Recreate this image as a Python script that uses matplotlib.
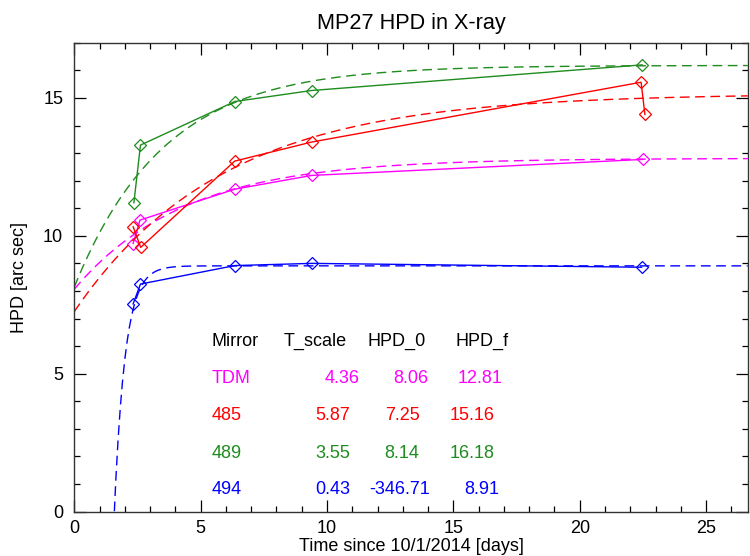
"""MP27 HPD in X-ray: gemessene HPD je Spiegel plus exponentieller Fit."""
import numpy as np
import matplotlib
matplotlib.use("Agg")
import matplotlib.pyplot as plt
from matplotlib.ticker import MultipleLocator

plt.rcParams.update({
    "font.family": ["Liberation Sans", "DejaVu Sans"],
    "font.size": 13,
    "xtick.direction": "in",
    "ytick.direction": "in",
    "xtick.top": True,
    "ytick.right": True,
})

# Messpunkte (Tage seit 10/1/2014, HPD in arcsec)
mirrors = ["TDM", "485", "489", "494"]
colors = ["#ff00ff", "#ff0000", "#1e8c1e", "#0000ff"]

tdm_t = [2.33, 2.60, 6.35, 9.39, 22.49]
tdm_hpd = [9.72, 10.57, 11.69, 12.19, 12.77]

m485_t = [2.33, 2.63, 6.35, 9.39, 22.43, 22.58]
m485_hpd = [10.33, 9.58, 12.71, 13.40, 15.57, 14.40]

m489_t = [2.36, 2.62, 6.35, 9.39, 22.47]
m489_hpd = [11.20, 13.29, 14.87, 15.27, 16.20]

m494_t = [2.33, 2.62, 6.35, 9.39, 22.45]
m494_hpd = [7.53, 8.25, 8.92, 9.00, 8.86]

# Fit-Parameter aus der Tabelle im Plot
t_scale = [4.36, 5.87, 3.55, 0.43]
hpd_0 = [8.06, 7.25, 8.14, -346.71]
hpd_f = [12.81, 15.16, 16.18, 8.91]
t_scale_txt = ["4.36", "5.87", "3.55", "0.43"]
hpd_0_txt = ["8.06", "7.25", "8.14", "-346.71"]
hpd_f_txt = ["12.81", "15.16", "16.18", "8.91"]

XMAX, YMAX = 26.65, 17.0

fig = plt.figure(figsize=(7.5, 5.56), dpi=100)
ax = fig.add_axes([0.099, 0.080, 0.898, 0.843])

series = [(tdm_t, tdm_hpd), (m485_t, m485_hpd),
          (m489_t, m489_hpd), (m494_t, m494_hpd)]
t_fit = np.linspace(0, XMAX, 600)
for i, (t, h) in enumerate(series):
    fit = hpd_f[i] + (hpd_0[i] - hpd_f[i]) * np.exp(-t_fit / t_scale[i])
    ax.plot(t_fit, fit, color=colors[i], linewidth=1.0, dashes=(7, 4))
    ax.plot(t, h, color=colors[i], linewidth=1.0, marker="D",
            markersize=6, markerfacecolor="none", markeredgewidth=0.9)

ax.set_xlim(0, XMAX)
ax.set_ylim(0, YMAX)
ax.xaxis.set_major_locator(MultipleLocator(5))
ax.xaxis.set_minor_locator(MultipleLocator(1))
ax.yaxis.set_major_locator(MultipleLocator(5))
ax.yaxis.set_minor_locator(MultipleLocator(1))
ax.tick_params(which="major", length=8.6, width=0.9, pad=6)
ax.tick_params(which="minor", length=4.3, width=0.9)
ax.tick_params(axis="y", which="major", pad=8)
for s in ax.spines.values():
    s.set_linewidth(1.0)
    s.set_color("#333333")

ax.set_title("MP27 HPD in X-ray", pad=10)
ax.set_xlabel("Time since 10/1/2014 [days]", labelpad=1)
ax.set_ylabel("HPD [arc sec]", labelpad=11)

# Tabelle (Positionen in Pixeln der Achse umgerechnet)
def px(xp, yp):
    return (xp - 74.3) / 25.3, (511.7 - yp) / 27.67

hdr_y = 340.7
for label, xl in [("Mirror", 211.7), ("T_scale", 284), ("HPD_0", 367.7),
                  ("HPD_f", 456)]:
    ax.text(*px(xl, hdr_y), label, ha="left", va="center", color="black")

row_y = [378, 415.7, 453, 490]
col_right = [[360, 429.3, 503.3], [350.7, 420, 495],
             [350.7, 420, 495], [350.7, 430, 500]]
for i, name in enumerate(mirrors):
    ax.text(*px(211.7, row_y[i]), name, ha="left", va="center",
            color=colors[i])
    for xr, txt in zip(col_right[i],
                       [t_scale_txt[i], hpd_0_txt[i], hpd_f_txt[i]]):
        ax.text(*px(xr, row_y[i]), txt, ha="right", va="center",
                color=colors[i])

fig.savefig("out.png", dpi=100)
